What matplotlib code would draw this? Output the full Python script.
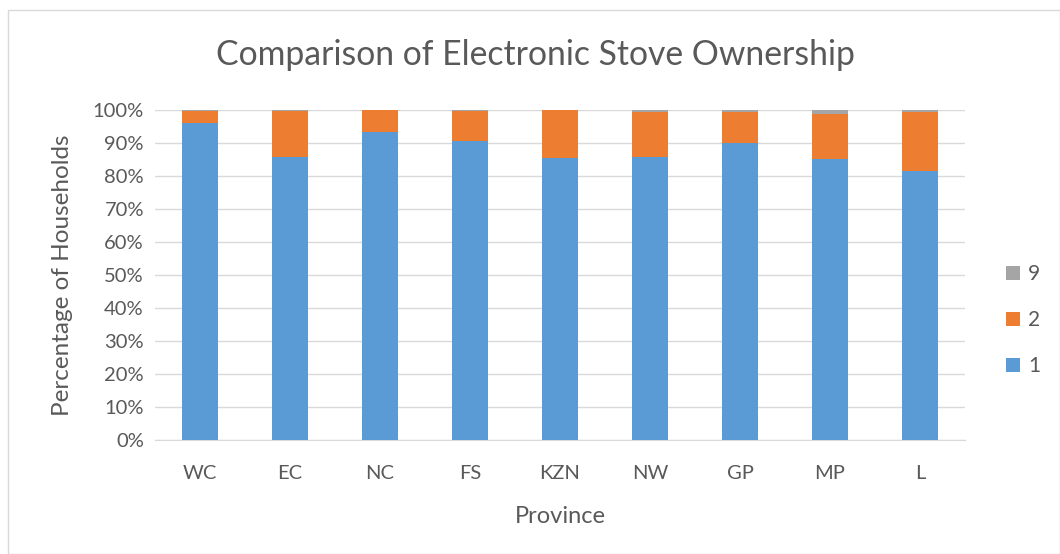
import matplotlib.pyplot as plt
from matplotlib.patches import Rectangle
from matplotlib.ticker import PercentFormatter

# Electronic stove ownership shares per province (response codes 1, 2, 9)
provinces = ["WC", "EC", "NC", "FS", "KZN", "NW", "GP", "MP", "L"]
code_1 = [96.1, 85.8, 93.2, 90.7, 85.4, 85.7, 90.0, 85.2, 81.4]
code_2 = [3.6, 13.9, 6.8, 9.1, 14.6, 13.8, 9.5, 13.7, 18.1]
code_9 = [0.3, 0.3, 0.0, 0.2, 0.0, 0.5, 0.5, 1.1, 0.5]

plt.rcParams["font.family"] = ["Lato", "DejaVu Sans"]
text_color = "#595959"

fig = plt.figure(figsize=(10.6, 5.54), dpi=100)
ax = fig.add_axes([155 / 1060, 1 - 440 / 554, 810 / 1060, 330 / 554])

# chart area border
fig.patches.append(Rectangle((8 / 1060, 0), 1 - 8 / 1060, 1 - 10 / 554,
                             transform=fig.transFigure, fill=False,
                             edgecolor="#d9d9d9", linewidth=1))

x = range(len(provinces))
bottom_2 = code_1
bottom_9 = [a + b for a, b in zip(code_1, code_2)]
w = 0.4
ax.bar(x, code_1, w, color="#5b9bd5", label="1", zorder=3)
ax.bar(x, code_2, w, bottom=bottom_2, color="#ed7d31", label="2", zorder=3)
ax.bar(x, code_9, w, bottom=bottom_9, color="#a5a5a5", label="9", zorder=3)

ax.set_xlim(-0.5, len(provinces) - 0.5)
ax.set_ylim(0, 100)
ax.set_yticks(range(0, 101, 10))
ax.yaxis.set_major_formatter(PercentFormatter(decimals=0))
ax.set_xticks(list(x))
ax.set_xticklabels(provinces)
ax.grid(axis="y", color="#d9d9d9", linewidth=1, zorder=0)
for side in ["top", "right", "left"]:
    ax.spines[side].set_visible(False)
ax.spines["bottom"].set_color("#d9d9d9")
ax.tick_params(length=0, labelsize=14.5, colors=text_color)
ax.tick_params(axis="x", pad=18)
ax.tick_params(axis="y", pad=8)

fig.text(535 / 1060, 1 - 55 / 554, "Comparison of Electronic Stove Ownership",
         fontsize=24.3, color=text_color, ha="center", va="center")
ax.set_xlabel("Province", fontsize=17, color=text_color, labelpad=17)
ax.set_ylabel("Percentage of Households", fontsize=17.5, color=text_color, labelpad=14)

handles, labels = ax.get_legend_handles_labels()
ax.legend(handles[::-1], labels[::-1], loc="center left",
          bbox_to_anchor=(987 / 1060, 1 - 320 / 554), bbox_transform=fig.transFigure,
          frameon=False, fontsize=15, labelcolor=text_color, handlelength=0.68,
          handleheight=0.68, labelspacing=1.25, handletextpad=0.4)

fig.savefig("out.png", dpi=100)
